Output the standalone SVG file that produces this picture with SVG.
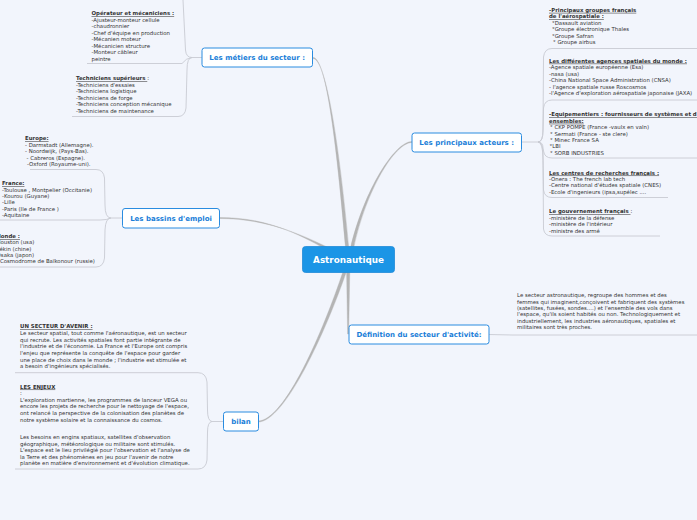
<svg xmlns="http://www.w3.org/2000/svg" width="697" height="520" viewBox="0 0 697 520">
<style>
.bg{fill:#f2f5fc}
.main{fill:#b4b4b4;stroke:#b4b4b4;stroke-width:0.4;stroke-linejoin:round}
.sub{fill:none;stroke:#c8cbd2;stroke-width:0.9}
.node rect{fill:#ffffff;stroke:#2a8ce0;stroke-width:1}
.node text{font-family:"DejaVu Sans",Verdana,sans-serif;font-size:7px;font-weight:bold;fill:#1a7ed8;text-anchor:middle}
.root rect{fill:#1b95e6;stroke:#1f8ad8;stroke-width:0.8}
.root text{font-family:"DejaVu Sans",Verdana,sans-serif;font-size:8.8px;font-weight:bold;fill:#ffffff;text-anchor:middle}
.tx{font-family:"DejaVu Sans",Verdana,sans-serif;font-size:5.4px;fill:#333333}
.h{font-weight:bold;text-decoration:underline}
</style>
<rect class="bg" x="0" y="0" width="697" height="520"/>

<g id="connectors">
  <path class="main" d="M313,57.5 C328,57.5 338.6,170 345.6,248 L348.8,248 C341.6,170 328,58.5 313,58.5 Z"/>
  <path class="main" d="M412,141.5 C395,141.5 364,190 350.5,248 L353.7,248 C366,190 395,142.5 412,142.5 Z"/>
  <path class="main" d="M219,217.5 C260,217.5 290,229 323.5,248 L327,247 C292,230 260,218.5 219,218.5 Z"/>
  <path class="main" d="M346.6,271 L349.8,271 L348.6,334 L347.6,334 Z"/>
  <path class="main" d="M258,421 C285,421 323.5,330 343.2,271 L346.6,271 C326.5,330 285,422 258,422 Z"/>

  <path class="sub" d="M202,57.5 L192,57.5"/>
  <path class="sub" d="M192,57.5 Q186,57.5 185.5,50 L183,0"/>
  <path class="sub" d="M192,57.5 Q186,58 182,63.5 L87,63.5"/>
  <path class="sub" d="M192,57.5 Q187,57.5 187,70 L186,108 Q185,116.5 178,116.5 L72,116.5"/>

  <path class="sub" d="M122,218 L111,218"/>
  <path class="sub" d="M111,218 Q105,218 105,205 L104.5,178 Q103.5,169.5 96,169.5 L30,169.5"/>
  <path class="sub" d="M111,218 Q107,220 100,220 L0,220"/>
  <path class="sub" d="M111,218 Q105.5,218 105,230 L104.5,258 Q103.5,267 96,267 L0,267"/>

  <path class="sub" d="M223,421.5 L212,421.5"/>
  <path class="sub" d="M212,421.5 Q207.5,421 207.5,410 L207,382 Q206,372.7 198,372.7 L15,372.7"/>
  <path class="sub" d="M212,421.5 Q207.5,422 207.5,432 L207,460 Q206,469 198,469 L15,469"/>

  <path class="sub" d="M522,142 L538,142"/>
  <path class="sub" d="M538,142 Q543,142 543,130 L543.5,57 Q544.5,48.5 552,48.5 L697,48.5"/>
  <path class="sub" d="M538,142 Q543,142 543,130 L543.5,108 Q544.5,100 552,100 L697,100"/>
  <path class="sub" d="M538,142 Q543,142 543,148 L543.5,151 Q544.5,158 552,158 L697,158"/>
  <path class="sub" d="M538,142 Q543,142 543,155 L543.5,190 Q544.5,197.5 552,197.5 L668,197.5"/>
  <path class="sub" d="M538,142 Q543,142 543,160 L543.5,229 Q544.5,236 552,236 L660,236"/>

  <path class="sub" d="M489,334.5 L512,335 L697,335"/>
</g>

<g id="root" class="root">
  <rect x="302.5" y="246.5" width="92" height="26" rx="3"/>
  <text x="348.5" y="262.8">Astronautique</text>
</g>

<g id="n-metiers" class="node">
  <rect x="202" y="48" width="110.5" height="19" rx="2.5"/>
  <text x="257.2" y="60">Les métiers du secteur :</text>
</g>
<g id="n-acteurs" class="node">
  <rect x="412" y="133" width="109.5" height="19" rx="2.5"/>
  <text x="466.7" y="145">Les principaux acteurs :</text>
</g>
<g id="n-bassins" class="node">
  <rect x="122.5" y="208.5" width="97" height="19.5" rx="2.5"/>
  <text x="171" y="220.7">Les bassins d'emploi</text>
</g>
<g id="n-definition" class="node">
  <rect x="349" y="325" width="140" height="19" rx="2.5"/>
  <text x="419" y="337">Définition du secteur d'activité:</text>
</g>
<g id="n-bilan" class="node">
  <rect x="223.5" y="412" width="35" height="19" rx="2.5"/>
  <text x="241" y="424">bilan</text>
</g>

<g id="c-operateur" class="tx">
  <text x="91.5" y="15" class="h">Opérateur et mécaniciens :</text>
  <text x="91.5" y="21.5">-Ajusteur-monteur cellule</text>
  <text x="91.5" y="28">-chaudronnier</text>
  <text x="91.5" y="34.5">-Chef d'équipe en production</text>
  <text x="91.5" y="41">-Mécanien moteur</text>
  <text x="91.5" y="47.5">-Mécanicien structure</text>
  <text x="91.5" y="54">-Monteur câbleur</text>
  <text x="91.5" y="60.5">peintre</text>
</g>
<g id="c-techniciens" class="tx">
  <text x="76" y="80"><tspan class="h">Techniciens supérieurs </tspan>:</text>
  <text x="76" y="86.5">-Techniciens d'essaies</text>
  <text x="76" y="93">-Techniciens logistique</text>
  <text x="76" y="99.5">-Techniciens de forge</text>
  <text x="76" y="106">-Techniciens conception mécanique</text>
  <text x="76" y="112.5">-Techniciens de maintenance</text>
</g>

<g id="c-europe" class="tx">
  <text x="25" y="140" class="h">Europe:</text>
  <text x="25" y="146.5">- Darmstadt (Allemagne).</text>
  <text x="25" y="153">- Noordwijk, (Pays-Bas).</text>
  <text x="26.5" y="159.5">- Cabreros  (Espagne).</text>
  <text x="27" y="166">-Oxford (Royaume-uni).</text>
</g>
<g id="c-france" class="tx">
  <text x="2" y="185.3" class="h">France:</text>
  <text x="2" y="191.6">-Toulouse , Montpelier (Occitanie)</text>
  <text x="2" y="197.9">-Kourou (Guyane)</text>
  <text x="2" y="204.2">-Lille</text>
  <text x="2" y="210.5">-Paris (Ile de France )</text>
  <text x="2" y="216.8">-Aquitaine</text>
</g>
<g id="c-monde" class="tx">
  <text x="-4.5" y="238" class="h">Monde :</text>
  <text x="-5.5" y="244.3">-Houston (usa)</text>
  <text x="-5.5" y="250.6">-Pékin (chine)</text>
  <text x="-5.5" y="256.9">-Osaka (japon)</text>
  <text x="-2" y="263.2">-Cosmodrome de Baïkonour (russie)</text>
</g>

<g id="c-avenir" class="tx">
  <text x="20" y="328" class="h">UN SECTEUR D'AVENIR :</text>
  <text x="20" y="335.2">Le secteur spatial, tout comme l'aéronautique, est un secteur</text>
  <text x="20" y="341.8">qui recrute. Les activités spatiales font partie intégrante de</text>
  <text x="20" y="348.4">l'industrie et de l'économie. La France et l'Europe ont compris</text>
  <text x="20" y="355">l'enjeu que représente la conquête de l'espace pour garder</text>
  <text x="20" y="361.6">une place de choix dans le monde ; l'industrie est stimulée et</text>
  <text x="20" y="368.2">a besoin d'ingénieurs spécialisés.</text>
</g>
<g id="c-enjeux" class="tx">
  <text x="20" y="388.5" class="h">LES ENJEUX</text>
  <text x="20" y="394.5">:</text>
  <text x="20" y="401.8">L'exploration martienne, les programmes de lanceur VEGA ou</text>
  <text x="20" y="408.4">encore les projets de recherche pour le nettoyage de l'espace,</text>
  <text x="20" y="415">ont relancé la perspective de la colonisation des planètes de</text>
  <text x="20" y="421.5">notre système solaire et la connaissance du cosmos.</text>
</g>
<g id="c-besoins" class="tx">
  <text x="20" y="439">Les besoins en engins spatiaux, satellites d'observation</text>
  <text x="20" y="445.5">géographique, météorologique ou militaire sont stimulés.</text>
  <text x="20" y="452">L'espace est le lieu privilégié pour l'observation et l'analyse de</text>
  <text x="20" y="458.5">la Terre et des phénomènes en jeu pour l'avenir de notre</text>
  <text x="20" y="465">planète en matière d'environnement et d'évolution climatique.</text>
</g>

<g id="c-groupes" class="tx">
  <text x="549" y="11.8" class="h">-Principaux groupes français</text>
  <text x="549" y="18.3" class="h">de l'aérospatiale :</text>
  <text x="552" y="24.8">°Dassault aviation</text>
  <text x="552" y="31.3">°Groupe électronique Thales</text>
  <text x="552" y="37.8">°Groupe Safran</text>
  <text x="553" y="44.3">° Groupe airbus</text>
</g>
<g id="c-agences" class="tx">
  <text x="549" y="62.6" class="h">Les différentes agences spatiales du monde :</text>
  <text x="549" y="69.1">-Agence spatiale européenne (Esa)</text>
  <text x="549" y="75.6">-nasa (usa)</text>
  <text x="549" y="82.1">-China National Space Administration (CNSA)</text>
  <text x="549" y="88.6">- l'agence spatiale russe Roscosmos</text>
  <text x="549" y="95.1">-l'Agence d'exploration aérospatiale japonaise (JAXA)</text>
</g>
<g id="c-equip" class="tx">
  <text x="549" y="116.3" class="h">-Equipementiers : fournisseurs de systèmes et d'</text>
  <text x="549" y="122.7" class="h">ensembles:</text>
  <text x="550" y="129.1">° CKP POMPE (France -vaulx en valn)</text>
  <text x="550" y="135.5">° Sermati (France - ste clere)</text>
  <text x="550" y="141.9">° Minec France SA</text>
  <text x="549.5" y="148.3">°LBI</text>
  <text x="550" y="154.7">° SORB INDUSTRIES</text>
</g>
<g id="c-recherche" class="tx">
  <text x="549" y="174.5" class="h">Les centres de recherches français :</text>
  <text x="549" y="180.9">-Onera : The french lab tech</text>
  <text x="549" y="187.3">-Centre national d'études spatiale (CNES)</text>
  <text x="549" y="193.8">-Ecole d'ingenieurs (ipsa,supélec ....</text>
</g>
<g id="c-gouv" class="tx">
  <text x="549" y="213.3"><tspan class="h">Le gouvernement français </tspan>:</text>
  <text x="549" y="219.8">-ministère de la défense</text>
  <text x="549" y="226.2">-ministère de l'intérieur</text>
  <text x="549" y="232.6">-ministre des armé</text>
</g>

<g id="c-definition" class="tx">
  <text x="517" y="297.1">Le secteur astronautique, regroupe des hommes et des</text>
  <text x="517" y="303.5">femmes qui imaginent,conçoivent et fabriquent  des systèmes</text>
  <text x="517" y="309.9">(satellites, fusées, sondes....) et l'ensemble des vols dans</text>
  <text x="517" y="316.3">l'espace, qu'ils soient habités ou non. Technologiquement et</text>
  <text x="517" y="322.7">industriellement, les industries aéronautiques, spatiales et</text>
  <text x="517" y="329.1">militaires sont très proches.</text>
</g>
</svg>
